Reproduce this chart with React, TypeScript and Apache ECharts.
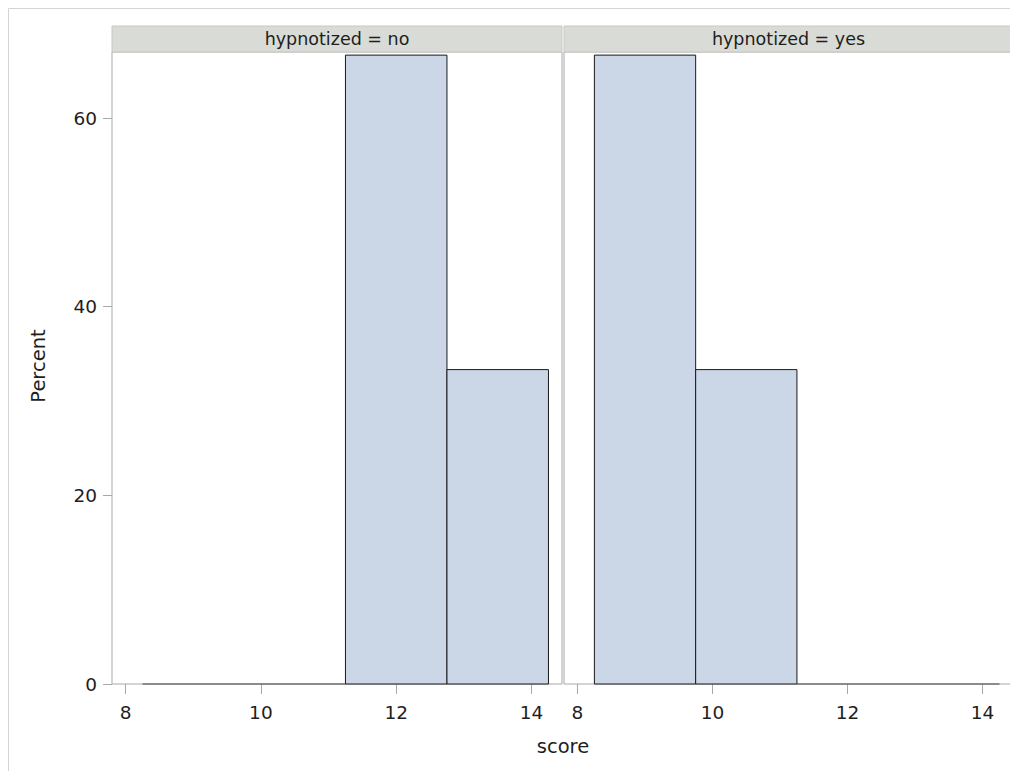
import React, { useEffect, useRef } from "react";
import * as echarts from "echarts";

// Histogram bins of score (width 1.5), percent per panel
const binStart = [8.25, 9.75, 11.25, 12.75];
const binEnd = [9.75, 11.25, 12.75, 14.25];
const pctNo = [0, 0, 66.67, 33.33];
const pctYes = [66.67, 33.33, 0, 0];
const panelLabels = ["hypnotized = no", "hypnotized = yes"];
const xTicks = [8, 10, 12, 14];
const yTicks = [0, 20, 40, 60];

const FONT = "DejaVu Sans";
const TEXT = "#1e1e1e";
const FRAME = "#a8a8a8";

function binRows(pcts: number[]) {
  return binStart.map((s, i) => [s, binEnd[i], pcts[i]]);
}

const renderBin = (_params: any, api: any) => {
  const x0 = api.value(0);
  const x1 = api.value(1);
  const v = api.value(2);
  const top = api.coord([x0, v]);
  const base = api.coord([x1, 0]);
  if (v === 0) {
    return {
      type: "line",
      shape: { x1: top[0], y1: base[1], x2: base[0], y2: base[1] },
      style: { stroke: "#444", lineWidth: 1 },
    };
  }
  return {
    type: "rect",
    shape: { x: top[0], y: top[1], width: base[0] - top[0], height: base[1] - top[1] },
    style: { fill: "#cbd6e6", stroke: "#1a1a1a", lineWidth: 1 },
  };
};

export default function App() {
  const ref = useRef<HTMLDivElement>(null);

  useEffect(() => {
    if (!ref.current) return;
    const chart = echarts.init(ref.current, undefined, { renderer: "svg" });

    const grids = [
      { left: 104, top: 44, width: 450, height: 632 },
      { left: 556, top: 44, width: 449, height: 632 },
    ];

    const xAxisBase = (gi: number) => ({
      type: "value" as const,
      gridIndex: gi,
      min: 7.8,
      max: 14.45,
      axisLine: { show: false },
      splitLine: { show: false },
      axisTick: {
        show: true,
        length: 10,
        inside: false,
        customValues: xTicks,
        lineStyle: { color: FRAME, width: 1 },
      },
      axisLabel: {
        customValues: xTicks,
        margin: 19,
        fontFamily: FONT,
        fontSize: 18.5,
        color: TEXT,
      },
    });

    const yAxisBase = (gi: number, show: boolean) => ({
      type: "value" as const,
      gridIndex: gi,
      min: 0,
      max: 67,
      axisLine: { show: false },
      splitLine: { show: false },
      axisTick: {
        show,
        length: 9,
        customValues: yTicks,
        lineStyle: { color: FRAME, width: 1 },
      },
      axisLabel: {
        show,
        customValues: yTicks,
        margin: 15,
        fontFamily: FONT,
        fontSize: 18.5,
        color: TEXT,
      },
    });

    const strips: any[] = grids.map((g, i) => ({
      type: "group",
      children: [
        {
          type: "rect",
          shape: { x: g.left, y: 18, width: g.width, height: 26 },
          style: { fill: "#d9dbd6", stroke: "#c9c9c9", lineWidth: 1 },
        },
        {
          type: "text",
          x: g.left + g.width / 2,
          y: 31,
          style: {
            text: panelLabels[i],
            fontFamily: FONT,
            fontSize: 17.5,
            fill: TEXT,
            align: "center",
            verticalAlign: "middle",
          },
        },
      ],
    }));

    chart.setOption({
      animation: false,
      backgroundColor: "#ffffff",
      grid: grids.map((g) => ({
        ...g,
        show: true,
        borderColor: FRAME,
        borderWidth: 1,
        backgroundColor: "#ffffff",
      })),
      xAxis: [xAxisBase(0), xAxisBase(1)],
      yAxis: [yAxisBase(0, true), yAxisBase(1, false)],
      series: [
        {
          type: "custom",
          xAxisIndex: 0,
          yAxisIndex: 0,
          renderItem: renderBin,
          encode: { x: [0, 1], y: 2 },
          data: binRows(pctNo),
        },
        {
          type: "custom",
          xAxisIndex: 1,
          yAxisIndex: 1,
          renderItem: renderBin,
          encode: { x: [0, 1], y: 2 },
          data: binRows(pctYes),
        },
      ],
      graphic: [
        {
          type: "line",
          shape: { x1: 0.5, y1: 0.5, x2: 1010, y2: 0.5 },
          style: { stroke: "#d4d4d4", lineWidth: 1 },
        },
        {
          type: "line",
          shape: { x1: 0.5, y1: 0.5, x2: 0.5, y2: 763 },
          style: { stroke: "#d4d4d4", lineWidth: 1 },
        },
        ...strips,
        {
          type: "text",
          x: 30,
          y: 358,
          rotation: Math.PI / 2,
          style: {
            text: "Percent",
            fontFamily: FONT,
            fontSize: 19.5,
            fill: TEXT,
            align: "center",
            verticalAlign: "middle",
          },
        },
        {
          type: "text",
          x: 555,
          y: 738,
          style: {
            text: "score",
            fontFamily: FONT,
            fontSize: 19.5,
            fill: TEXT,
            align: "center",
            verticalAlign: "middle",
          },
        },
      ],
    });

    return () => chart.dispose();
  }, []);

  return <div ref={ref} style={{ width: 1010, height: 763 }} />;
}
